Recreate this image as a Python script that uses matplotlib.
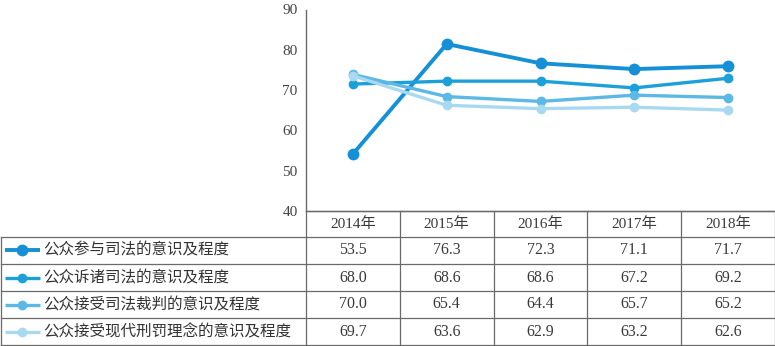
import matplotlib
matplotlib.use('Agg')
import matplotlib.pyplot as plt
import numpy as np

# survey scores per year
years = ['2014年', '2015年', '2016年', '2017年', '2018年']
names = ['公众参与司法的意识及程度',
         '公众诉诸司法的意识及程度',
         '公众接受司法裁判的意识及程度',
         '公众接受现代刑罚理念的意识及程度']
participate = [53.5, 76.3, 72.3, 71.1, 71.7]
litigate = [68.0, 68.6, 68.6, 67.2, 69.2]
accept_ruling = [70.0, 65.4, 64.4, 65.7, 65.2]
accept_penalty = [69.7, 63.6, 62.9, 63.2, 62.6]
tick_labels = ['40', '50', '60', '70', '80', '90']

series = [participate, litigate, accept_ruling, accept_penalty]
colors = ['#1590d6', '#1ba0da', '#5cb9e5', '#a9d9f1']
widths = [2.8, 2.4, 2.4, 2.4]
msizes = [7.5, 6.0, 6.0, 6.0]

cjk = ['Noto Sans CJK SC', 'DejaVu Sans']
num = ['Liberation Serif', 'Noto Sans CJK SC']
grid_col = '#6a6a6a'

W, H = 775, 346
fig = plt.figure(figsize=(W / 100, H / 100), dpi=100)

# chart area sits above the year columns of the table
x0, x1 = 306, 775
ytop, ybot = 9.5, 211
ax = fig.add_axes([x0 / W, 1 - ybot / H, (x1 - x0) / W, (ybot - ytop) / H])
x = np.arange(len(years))
for vals, c, lw, ms in zip(series, colors, widths, msizes):
    ax.plot(x, vals, color=c, lw=lw, marker='o', ms=ms, solid_joinstyle='round')

lo, hi = 41.69, 83.45
ax.set_xlim(-0.5, len(years) - 0.5)
ax.set_ylim(lo, hi)
ax.set_yticks(np.linspace(lo, hi, len(tick_labels)))
ax.set_yticklabels(tick_labels, family=num, fontsize=11, color='#444444')
ax.tick_params(axis='y', length=0, pad=6)
ax.set_xticks([])
for s in ['top', 'right']:
    ax.spines[s].set_visible(False)
for s in ['left', 'bottom']:
    ax.spines[s].set_color(grid_col)
    ax.spines[s].set_linewidth(1.0)

# data table drawn in pixel coordinates
tab = fig.add_axes([0, 0, 1, 1])
tab.set_xlim(0, W)
tab.set_ylim(H, 0)
tab.axis('off')
tab.patch.set_alpha(0)

row_edges = [211, 236.5, 264, 291, 318, 345]
col_w = (x1 - x0) / len(years)
col_edges = [x0 + i * col_w for i in range(len(years) + 1)]
col_edges[-1] = 774.5

lk = dict(color=grid_col, lw=0.9)
tab.plot([x0, x1], [row_edges[0]] * 2, **lk)
for y in row_edges[1:]:
    tab.plot([0.5, x1], [y, y], **lk)
tab.plot([0.8, 0.8], [row_edges[1], row_edges[-1]], **lk)
for cx in col_edges:
    tab.plot([cx, cx], [row_edges[0], row_edges[-1]], **lk)

for i, yr in enumerate(years):
    cx = x0 + (i + 0.5) * col_w
    tab.text(cx, (row_edges[0] + row_edges[1]) / 2, yr, ha='center', va='center',
             family=num, fontsize=11, color='#3a3a3a')

for r, (name, vals, c, lw, ms) in enumerate(zip(names, series, colors, widths, msizes)):
    cy = (row_edges[r + 1] + row_edges[r + 2]) / 2
    tab.plot([5, 40], [cy, cy], color=c, lw=lw, solid_capstyle='butt')
    tab.plot([22], [cy], marker='o', ms=ms, color=c)
    tab.text(43, cy, name, ha='left', va='center', family=cjk, fontsize=11.2,
             color='#333333')
    for i, v in enumerate(vals):
        cx = x0 + (i + 0.5) * col_w
        tab.text(cx, cy, f'{v:.1f}', ha='center', va='center', family=num,
                 fontsize=11.5, color='#3a3a3a')

fig.savefig('out.png', dpi=100)
